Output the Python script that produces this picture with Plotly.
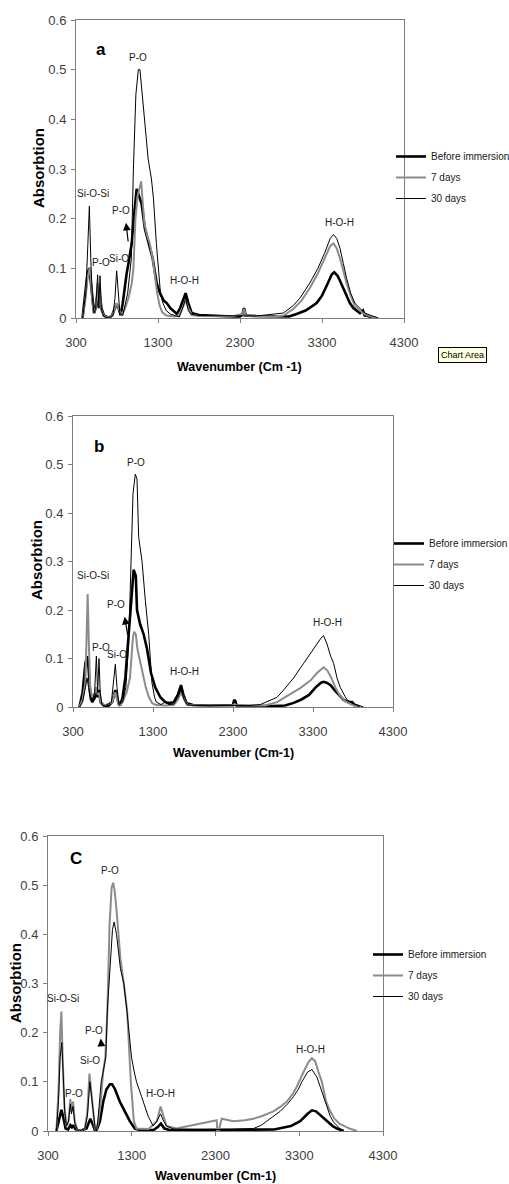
import plotly.graph_objects as go

# ---------------- DATA ----------------
SERIES_NAMES = ["Before immersion", "7 days", "30 days"]
X_TICKS = [300, 1300, 2300, 3300, 4300]
Y_TICKS = [0, 0.1, 0.2, 0.3, 0.4, 0.5, 0.6]

# Panel a
A_BEFORE_X = [380, 410, 440, 463, 480, 500, 520, 540, 564, 578, 593, 610, 640, 700, 740, 775, 796, 820, 845, 870, 900, 918, 940, 979, 1010, 1040, 1070, 1100, 1140, 1185, 1235, 1284, 1324, 1370, 1406, 1450, 1487, 1530, 1570, 1600, 1637, 1670, 1710, 1800, 2000, 2200, 2300, 2330, 2349, 2370, 2500, 2700, 2900, 2990, 3100, 3235, 3300, 3357, 3420, 3450, 3490, 3519, 3560, 3601, 3640, 3682, 3720, 3763, 3800, 3820, 3845, 3926]
A_BEFORE_Y = [0, 0.04, 0.09, 0.1, 0.07, 0.03, 0.01, 0.02, 0.05, 0.02, 0.045, 0.02, 0.005, 0, 0.005, 0.02, 0.028, 0.02, 0.005, 0.03, 0.07, 0.09, 0.11, 0.15, 0.21, 0.26, 0.245, 0.23, 0.18, 0.15, 0.12, 0.07, 0.05, 0.035, 0.03, 0.02, 0.015, 0.008, 0.02, 0.035, 0.05, 0.03, 0.01, 0.006, 0.004, 0.003, 0.003, 0.008, 0.02, 0.005, 0.004, 0.003, 0.003, 0.008, 0.015, 0.03, 0.045, 0.065, 0.088, 0.092, 0.085, 0.075, 0.06, 0.045, 0.03, 0.02, 0.015, 0.01, 0.015, 0.005, 0.005, 0]
A_7D_X = [380, 410, 440, 468, 485, 500, 520, 540, 564, 578, 593, 610, 640, 700, 740, 775, 796, 820, 860, 900, 940, 980, 1000, 1025, 1050, 1080, 1095, 1115, 1135, 1170, 1200, 1235, 1265, 1290, 1320, 1350, 1400, 1500, 1560, 1600, 1637, 1670, 1710, 1800, 2200, 2330, 2349, 2370, 2700, 2830, 2950, 3050, 3150, 3250, 3330, 3400, 3440, 3480, 3520, 3560, 3600, 3650, 3700, 3760, 3820, 3900, 3960]
A_7D_Y = [0, 0.03, 0.08, 0.102, 0.07, 0.03, 0.01, 0.02, 0.07, 0.02, 0.06, 0.015, 0.004, 0, 0.005, 0.02, 0.03, 0.02, 0.005, 0.02, 0.04, 0.07, 0.1, 0.2, 0.245, 0.265, 0.275, 0.23, 0.19, 0.165, 0.15, 0.12, 0.08, 0.05, 0.025, 0.012, 0.005, 0.003, 0.005, 0.02, 0.035, 0.02, 0.006, 0.004, 0.003, 0.008, 0.018, 0.004, 0.003, 0.005, 0.018, 0.035, 0.06, 0.09, 0.12, 0.145, 0.15, 0.14, 0.12, 0.095, 0.07, 0.045, 0.025, 0.015, 0.008, 0.003, 0]
A_30D_X = [380, 420, 445, 463, 480, 500, 520, 540, 564, 578, 593, 610, 640, 700, 750, 775, 796, 815, 835, 870, 930, 975, 1000, 1030, 1060, 1080, 1110, 1145, 1180, 1220, 1245, 1280, 1305, 1330, 1360, 1400, 1450, 1500, 1560, 1600, 1637, 1670, 1700, 1800, 2200, 2500, 2828, 2950, 3030, 3150, 3250, 3330, 3400, 3440, 3480, 3520, 3560, 3600, 3650, 3700, 3760, 3820, 3900, 3990]
A_30D_Y = [0, 0.05, 0.15, 0.225, 0.12, 0.04, 0.01, 0.02, 0.087, 0.02, 0.085, 0.015, 0.003, 0, 0.005, 0.04, 0.095, 0.05, 0.01, 0.005, 0.05, 0.12, 0.3, 0.45, 0.5, 0.5, 0.45, 0.38, 0.32, 0.28, 0.24, 0.15, 0.09, 0.05, 0.03, 0.015, 0.008, 0.005, 0.002, 0.02, 0.04, 0.015, 0.008, 0.005, 0.004, 0.004, 0.01, 0.025, 0.04, 0.07, 0.1, 0.13, 0.16, 0.168, 0.16, 0.14, 0.11, 0.08, 0.05, 0.03, 0.02, 0.01, 0.005, 0]

# Panel b
B_BEFORE_X = [380, 420, 455, 476, 495, 515, 540, 575, 592, 610, 625, 645, 690, 740, 790, 815, 829, 850, 875, 892, 920, 954, 988, 1025, 1058, 1085, 1100, 1140, 1183, 1225, 1275, 1329, 1392, 1454, 1500, 1560, 1610, 1650, 1680, 1720, 1800, 2000, 2250, 2300, 2315, 2330, 2345, 2500, 2800, 2950, 3050, 3150, 3250, 3330, 3400, 3433, 3470, 3520, 3570, 3620, 3680, 3740, 3790, 3820, 3880]
B_BEFORE_Y = [0, 0.03, 0.09, 0.105, 0.08, 0.03, 0.01, 0.02, 0.04, 0.02, 0.035, 0.01, 0.002, 0.002, 0.01, 0.03, 0.035, 0.02, 0.005, 0.005, 0.02, 0.06, 0.13, 0.2, 0.283, 0.27, 0.2, 0.17, 0.15, 0.12, 0.07, 0.04, 0.02, 0.01, 0.008, 0.01, 0.025, 0.045, 0.025, 0.008, 0.004, 0.003, 0.003, 0.004, 0.015, 0.012, 0.003, 0.002, 0.002, 0.003, 0.008, 0.015, 0.025, 0.04, 0.05, 0.052, 0.05, 0.045, 0.035, 0.025, 0.015, 0.01, 0.01, 0.004, 0]
B_7D_X = [380, 420, 455, 483, 500, 515, 540, 575, 592, 610, 625, 645, 690, 790, 815, 829, 850, 880, 920, 970, 1012, 1035, 1050, 1065, 1085, 1105, 1129, 1170, 1210, 1250, 1290, 1340, 1450, 1560, 1610, 1650, 1690, 1730, 1900, 2300, 2320, 2350, 2700, 2850, 3000, 3150, 3270, 3350, 3433, 3480, 3530, 3580, 3630, 3700, 3780, 3860]
B_7D_Y = [0, 0.015, 0.05, 0.233, 0.12, 0.04, 0.02, 0.03, 0.04, 0.025, 0.03, 0.01, 0.003, 0.01, 0.025, 0.03, 0.015, 0.003, 0.01, 0.03, 0.06, 0.12, 0.145, 0.155, 0.15, 0.12, 0.1, 0.07, 0.04, 0.02, 0.008, 0.004, 0.003, 0.004, 0.015, 0.03, 0.015, 0.004, 0.003, 0.003, 0.006, 0.003, 0.003, 0.01, 0.025, 0.04, 0.055, 0.07, 0.082, 0.075, 0.06, 0.04, 0.025, 0.012, 0.005, 0]
B_30D_X = [380, 420, 455, 476, 495, 515, 540, 570, 592, 608, 625, 640, 660, 700, 780, 810, 829, 850, 875, 920, 960, 996, 1030, 1050, 1079, 1100, 1121, 1163, 1204, 1246, 1287, 1320, 1342, 1400, 1450, 1500, 1560, 1610, 1650, 1690, 1730, 1900, 2300, 2500, 2642, 2750, 2850, 2933, 3058, 3183, 3308, 3400, 3433, 3475, 3520, 3558, 3600, 3642, 3700, 3725, 3790, 3850, 3933]
B_30D_Y = [0, 0.01, 0.04, 0.06, 0.04, 0.015, 0.01, 0.03, 0.105, 0.03, 0.1, 0.03, 0.005, 0.002, 0.01, 0.06, 0.088, 0.04, 0.005, 0.01, 0.04, 0.13, 0.35, 0.44, 0.48, 0.47, 0.35, 0.3, 0.22, 0.15, 0.05, 0.02, 0.01, 0.005, 0.01, 0.005, 0.006, 0.02, 0.035, 0.015, 0.004, 0.003, 0.003, 0.003, 0.005, 0.012, 0.02, 0.035, 0.06, 0.09, 0.12, 0.142, 0.147, 0.13, 0.105, 0.09, 0.06, 0.04, 0.022, 0.015, 0.008, 0.005, 0]

# Panel c
C_BEFORE_X = [400, 430, 460, 480, 510, 540, 567, 585, 599, 625, 679, 760, 790, 806, 830, 860, 878, 920, 960, 998, 1040, 1066, 1100, 1157, 1217, 1277, 1337, 1400, 1560, 1610, 1648, 1690, 1750, 2500, 3000, 3200, 3311, 3400, 3451, 3500, 3550, 3630, 3700, 3750, 3830]
C_BEFORE_Y = [0, 0.025, 0.043, 0.03, 0.005, 0.003, 0.012, 0.008, 0.012, 0.004, 0, 0.005, 0.02, 0.025, 0.015, 0.002, 0, 0.02, 0.06, 0.085, 0.095, 0.095, 0.085, 0.06, 0.04, 0.02, 0.005, 0.002, 0.002, 0.008, 0.015, 0.005, 0.002, 0.002, 0.003, 0.01, 0.02, 0.035, 0.042, 0.04, 0.033, 0.02, 0.01, 0.005, 0]
C_7D_X = [400, 425, 445, 460, 475, 495, 520, 545, 567, 580, 599, 620, 650, 679, 740, 770, 795, 815, 840, 860, 878, 900, 930, 958, 985, 1010, 1035, 1060, 1078, 1095, 1118, 1165, 1205, 1245, 1289, 1325, 1357, 1500, 1600, 1644, 1680, 1716, 1835, 2035, 2200, 2274, 2314, 2322, 2340, 2374, 2513, 2650, 2753, 2850, 2992, 3080, 3152, 3220, 3271, 3351, 3410, 3451, 3490, 3530, 3570, 3620, 3670, 3720, 3780, 3840, 3900, 3990]
C_7D_Y = [0, 0.08, 0.2, 0.243, 0.15, 0.05, 0.01, 0.02, 0.065, 0.04, 0.06, 0.02, 0.003, 0, 0.005, 0.04, 0.117, 0.08, 0.03, 0.005, 0, 0.02, 0.06, 0.12, 0.15, 0.25, 0.42, 0.495, 0.505, 0.49, 0.45, 0.35, 0.3, 0.245, 0.1, 0.02, 0.005, 0.004, 0.02, 0.05, 0.03, 0.01, 0.005, 0.012, 0.017, 0.02, 0.022, 0.0, 0.002, 0.025, 0.02, 0.022, 0.025, 0.03, 0.04, 0.05, 0.06, 0.075, 0.09, 0.12, 0.14, 0.148, 0.142, 0.12, 0.1, 0.06, 0.04, 0.025, 0.015, 0.01, 0.005, 0]
C_30D_X = [400, 425, 445, 465, 480, 500, 520, 545, 567, 580, 599, 620, 650, 679, 740, 770, 800, 820, 845, 865, 878, 895, 910, 935, 958, 990, 1010, 1030, 1050, 1070, 1090, 1118, 1165, 1205, 1245, 1297, 1330, 1357, 1417, 1496, 1556, 1600, 1644, 1680, 1716, 1800, 2100, 2500, 2753, 2850, 2912, 3000, 3072, 3160, 3231, 3290, 3331, 3400, 3451, 3490, 3510, 3550, 3590, 3630, 3670, 3710, 3750, 3790, 3829]
C_30D_Y = [0, 0.06, 0.15, 0.18, 0.12, 0.04, 0.01, 0.02, 0.055, 0.035, 0.05, 0.015, 0.003, 0, 0.005, 0.03, 0.1, 0.07, 0.02, 0.003, 0, 0.02, 0.05, 0.1, 0.12, 0.15, 0.25, 0.3, 0.37, 0.41, 0.425, 0.4, 0.33, 0.3, 0.24, 0.15, 0.12, 0.1, 0.07, 0.03, 0.01, 0.02, 0.035, 0.02, 0.01, 0.004, 0.003, 0.003, 0.005, 0.012, 0.02, 0.03, 0.04, 0.055, 0.07, 0.085, 0.1, 0.12, 0.125, 0.115, 0.11, 0.09, 0.07, 0.05, 0.03, 0.018, 0.01, 0.004, 0]

PANEL_LETTERS = ["a", "b", "C"]
X_TITLES = ["Wavenumber (Cm -1)", "Wavenumber (Cm-1)", "Wavenumber (Cm-1)"]
Y_TITLE = "Absorbtion"

# peak labels: (text, wavenumber, absorbance) per panel
A_LABELS = [("P-O", 1060, 0.525), ("Si-O-Si", 511, 0.251), ("P-O", 845, 0.217), ("P-O", 610, 0.111),
            ("Si-O", 820, 0.119), ("H-O-H", 1629, 0.075), ("H-O-H", 3511, 0.192)]
B_LABELS = [("P-O", 1092, 0.504), ("Si-O-Si", 550, 0.272), ("P-O", 837, 0.211), ("P-O", 645, 0.122),
            ("Si-O", 855, 0.109), ("H-O-H", 1692, 0.074), ("H-O-H", 3475, 0.174)]
C_LABELS = [("P-O", 1038, 0.53), ("Si-O-Si", 479, 0.269), ("P-O", 850, 0.205), ("P-O", 607, 0.077),
            ("Si-O", 806, 0.144), ("H-O-H", 1648, 0.076), ("H-O-H", 3431, 0.165)]
# arrows: (tail wn, tail abs, head wn, head abs)
ARROWS = [(938, 0.151, 910, 0.192), (987, 0.145, 946, 0.186), (938, 0.172, 930, 0.188)]
LETTER_POS = [(605, 0.54), (629, 0.537), (639, 0.554)]

# ---------------- STYLE / LAYOUT ----------------
W, H = 509, 1184
FONT = "Liberation Sans, Arial, sans-serif"

# pixel boxes of each plot area: (left, right, top, bottom)
BOXES = [(76, 404, 20, 318), (73, 393, 416, 707), (48, 383, 836, 1131)]
LEGEND_POS = [(391, 142), (389, 529), (368, 940)]
YTITLE_POS = [(38, 168), (36, 560), (15, 983)]
XTITLE_POS = [(239, 367), (233, 753), (215, 1176)]

STYLES = [dict(color="black", width=2.6), dict(color="#8c8c8c", width=2.0), dict(color="black", width=1.0)]

panels = [
    [(A_BEFORE_X, A_BEFORE_Y), (A_7D_X, A_7D_Y), (A_30D_X, A_30D_Y)],
    [(B_BEFORE_X, B_BEFORE_Y), (B_7D_X, B_7D_Y), (B_30D_X, B_30D_Y)],
    [(C_BEFORE_X, C_BEFORE_Y), (C_7D_X, C_7D_Y), (C_30D_X, C_30D_Y)],
]
labels = [A_LABELS, B_LABELS, C_LABELS]

fig = go.Figure()
layout = dict(
    width=W, height=H, margin=dict(l=0, r=0, t=0, b=0, autoexpand=False),
    paper_bgcolor="white", plot_bgcolor="white", showlegend=True,
)
annotations = []

for i, series in enumerate(panels):
    sfx = "" if i == 0 else str(i + 1)
    xa, ya = "x" + sfx, "y" + sfx
    leg = "legend" + sfx
    for j, (xs, ys) in enumerate(series):
        fig.add_trace(go.Scatter(x=xs, y=ys, mode="lines", name=SERIES_NAMES[j],
                                 line=STYLES[j], xaxis=xa, yaxis=ya, legend=leg,
                                 legendgroup=f"g{i}{j}", showlegend=True))
    l, r, t, b = BOXES[i]
    axis_common = dict(showgrid=False, zeroline=False, showline=True, linecolor="#7f7f7f",
                       linewidth=1, mirror=True, ticks="outside", ticklen=4, tickcolor="#7f7f7f",
                       tickfont=dict(family=FONT, size=13, color="#404040"))
    layout["xaxis" + sfx] = dict(axis_common, domain=[l / W, r / W], range=[300, 4300],
                                 tickvals=X_TICKS, ticktext=[str(v) for v in X_TICKS],
                                 anchor=ya, ticklabelstandoff=8)
    layout["yaxis" + sfx] = dict(axis_common, domain=[1 - b / H, 1 - t / H], range=[0, 0.6],
                                 tickvals=Y_TICKS, ticktext=["0" if v == 0 else f"{v:.1f}" for v in Y_TICKS],
                                 anchor=xa, ticklabelstandoff=2)
    lx, ly = LEGEND_POS[i]
    layout[leg] = dict(x=lx / W, y=1 - ly / H, xanchor="left", yanchor="top",
                       bgcolor="rgba(0,0,0,0)", borderwidth=0, tracegroupgap=2,
                       traceorder="grouped",
                       font=dict(family=FONT, size=10, color="#202020"))
    px, py = LETTER_POS[i]
    annotations.append(dict(x=px, y=py, xref=xa, yref=ya, text="<b>" + PANEL_LETTERS[i] + "</b>",
                            showarrow=False, font=dict(family=FONT, size=17, color="black")))
    for (txt, wx, wy) in labels[i]:
        annotations.append(dict(x=wx, y=wy, xref=xa, yref=ya, text=txt, showarrow=False,
                                font=dict(family=FONT, size=10, color="#202020")))
    tx, ty, hx, hy = ARROWS[i]
    annotations.append(dict(x=hx, y=hy, ax=tx, ay=ty, xref=xa, yref=ya, axref=xa, ayref=ya,
                            text="", showarrow=True, arrowhead=2, arrowsize=1.3, arrowwidth=1.2,
                            arrowcolor="black"))
    yx, yy = YTITLE_POS[i]
    annotations.append(dict(x=yx / W, y=1 - yy / H, xref="paper", yref="paper", text="<b>" + Y_TITLE + "</b>",
                            textangle=-90, showarrow=False, xanchor="center", yanchor="middle",
                            font=dict(family=FONT, size=15, color="black")))
    xx, xy = XTITLE_POS[i]
    annotations.append(dict(x=xx / W, y=1 - xy / H, xref="paper", yref="paper", text="<b>" + X_TITLES[i] + "</b>",
                            showarrow=False, xanchor="center", yanchor="middle",
                            font=dict(family=FONT, size=12.5, color="black")))

annotations.append(dict(x=462 / W, y=1 - 355 / H, xref="paper", yref="paper", text="Chart Area",
                        showarrow=False, xanchor="center", yanchor="middle",
                        bgcolor="#ffffe1", bordercolor="black", borderwidth=1, borderpad=2,
                        font=dict(family=FONT, size=9, color="black")))
layout["annotations"] = annotations
fig.update_layout(**layout)
fig.write_html("out.html", config={"displayModeBar": False},
               post_script="document.body.style.margin='0';document.body.style.padding='0';")
